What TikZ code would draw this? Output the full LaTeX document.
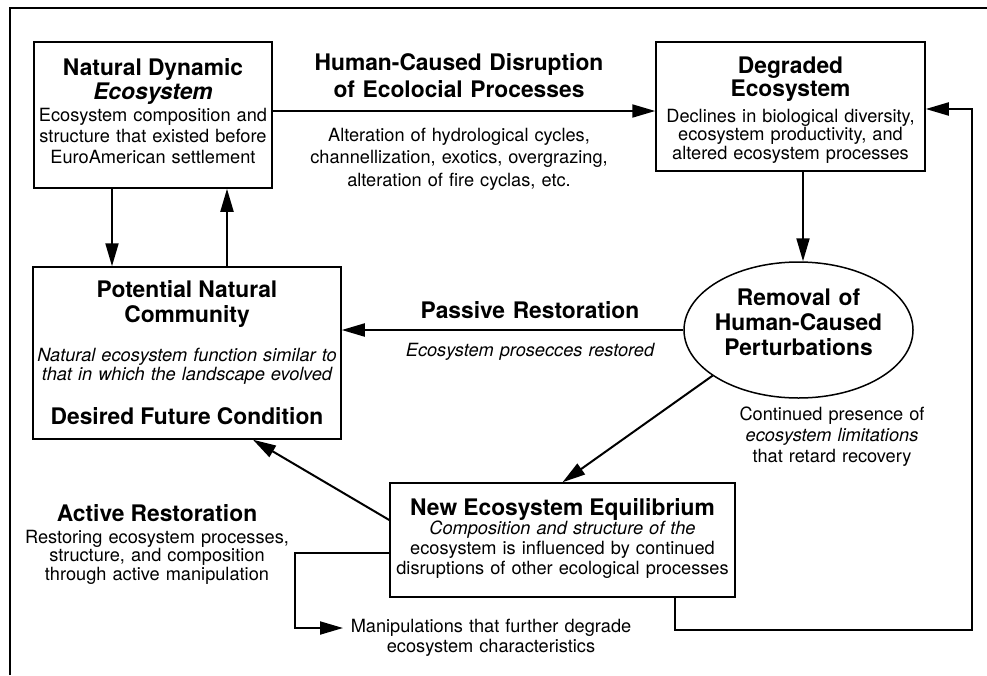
\documentclass[tikz,border=0pt]{standalone}
\usepackage{fontspec}
\setmainfont{TeX Gyre Heros}
\usetikzlibrary{arrows.meta,shapes.geometric,calc}
\newcommand\ttlf{\fontsize{22.8}{25}\selectfont\bfseries}
\newcommand\lead[2]{\fontsize{#1}{#2}\selectfont\lineskiplimit=-\maxdimen}
\begin{document}
\begin{tikzpicture}[x=1pt,y=-1pt,
  box/.style={draw, line width=1.5pt, inner sep=0pt},
  txt/.style={align=center, inner sep=0pt, text width=350pt, anchor=base},
  arr/.style={line width=2pt, -{Triangle[length=23pt,width=13pt]}}]
\useasboundingbox (0,0) rectangle (987,675);
% frame
\draw[line width=1.3pt] (10,675) -- (10,8) -- (987,8);

% boxes
\node[box, minimum width=238pt, minimum height=146pt] (nde) at (153,115) {};
\node[box, minimum width=269pt, minimum height=129pt] (deg) at (790.5,106.5) {};
\node[box, minimum width=308pt, minimum height=172pt] (pnc) at (187,353) {};
\node[box, ellipse, minimum width=229pt, minimum height=136pt] (ell) at (798.5,330) {};
\node[box, minimum width=345pt, minimum height=114pt] (nee) at (562.5,540) {};

% box texts (anchored at the baseline of their first line)
\node[txt, font=\lead{18.2}{21}] (nde-t) at (153,75)
  {{\ttlf Natural Dynamic}\\[3pt]{\ttlf\itshape Ecosystem}\\[1pt]Ecosystem composition and\\structure that existed before\\EuroAmerican settlement};
\node[txt, font=\lead{18.2}{18.5}] (deg-t) at (790.5,73)
  {{\ttlf Degraded}\\[4.5pt]{\ttlf Ecosystem}\\[7.5pt]Declines in biological diversity,\\ecosystem productivity, and\\altered ecosystem processes};
\node[txt, font=\lead{18.2}{19.5}] (pnc-t) at (187,297)
  {{\ttlf Potential Natural}\\[5.5pt]{\ttlf Community}\\[19.5pt]{\itshape Natural ecosystem function similar to}\\{\itshape that in which the landscape evolved}\\[24pt]{\ttlf Desired Future Condition}};
\node[txt, font=\lead{22.8}{25}\bfseries] (ell-t) at (798.5,305)
  {Removal of\\Human-Caused\\Perturbations};
\node[txt, font=\lead{18.2}{19.7}] (nee-t) at (562.5,515)
  {{\ttlf New Ecosystem Equilibrium}\\{\itshape Composition and structure of the}\\ecosystem is influenced by continued\\disruptions of other ecological processes};

% free labels
\node[txt, font=\lead{22.8}{27}\bfseries] (hcd) at (459,70) {Human-Caused Disruption\\of Ecolocial Processes};
\node[txt, font=\lead{18.2}{22.5}] (alt) at (459,141) {Alteration of hydrological cycles,\\channellization, exotics, overgrazing,\\alteration of fire cyclas, etc.};
\node[txt, font=\ttlf] (pas) at (530,318) {Passive Restoration};
\node[txt, font=\lead{18.2}{20}\itshape] (pasd) at (530,356) {Ecosystem prosecces restored};
\node[txt, font=\lead{18.2}{21}] (cont) at (832,420) {Continued presence of\\{\itshape ecosystem limitations}\\that retard recovery};
\node[txt, font=\lead{18.2}{18.5}] (act) at (157,521) {{\ttlf Active Restoration}\\[3.5pt]Restoring ecosystem processes,\\structure, and composition\\through active manipulation};
\node[txt, font=\lead{18.2}{20}] (manip) at (491,632) {Manipulations that further degrade\\ecosystem characteristics};

% connector anchors
\coordinate (p1) at ([yshift=4pt]nde.east);
\coordinate (p2) at ([xshift=-41pt]nde.south);
\coordinate (p3) at ([xshift=40pt]pnc.north);
\coordinate (p4) at ([yshift=20pt]nee.west);
\coordinate (p5) at ([xshift=66pt]pnc.south);
\coordinate (p6) at ([yshift=-13pt]nee.west);
\coordinate (p7) at ([xshift=112.5pt]nee.south);
\coordinate (p8) at ([yshift=-2.5pt]deg.east);
\coordinate (p9) at ([xshift=12.5pt]deg.south);
\coordinate (elb) at (295,628);
\coordinate (mtip) at (343,628);
\coordinate (rc) at (972,630);

% connectors
\draw[arr] (p1) -- (p1 -| deg.west);
\draw[arr] (p2) -- (p2 |- pnc.north);
\draw[arr] (p3) -- (p3 |- nde.south);
\draw[arr] (p9) -- (ell.north -| p9);
\draw[arr] (ell.west) -- (ell.west -| pnc.east);
\draw[arr] (ell.208) -- (nee.north);
\draw[arr] (p4) -- (p5);
\draw[arr] (p6) -| (elb) -- (mtip);
\draw[arr] (p7) |- (rc) |- (p8);
\end{tikzpicture}
\end{document}
